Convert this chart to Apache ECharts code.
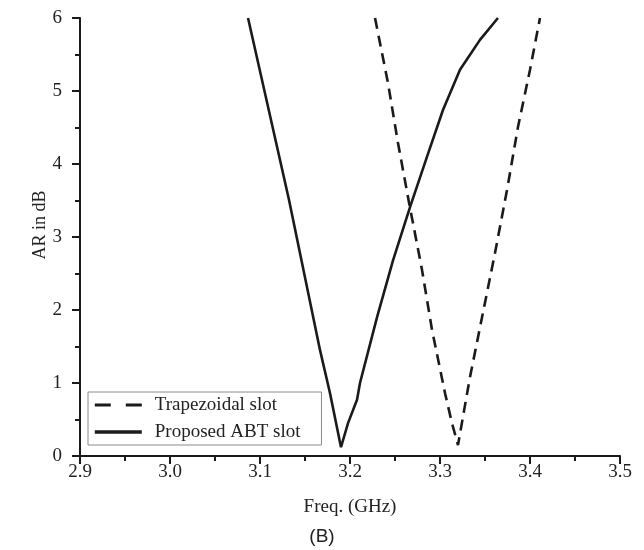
<!DOCTYPE html>
<html>
<head>
<meta charset="utf-8">
<script src="https://cdn.jsdelivr.net/npm/echarts@6/dist/echarts.min.js"></script>
<style>
html,body{margin:0;padding:0;background:#fff;}
#c{width:644px;height:550px;}
</style>
</head>
<body>
<div id="c"></div>
<script>
// Data
var seriesNames = ['Trapezoidal slot', 'Proposed ABT slot'];
var trapFreq = [3.2278, 3.2422, 3.2533, 3.2656, 3.28, 3.2911, 3.3056, 3.3133, 3.32, 3.3333, 3.3467, 3.3611, 3.3744, 3.3867, 3.40, 3.4111];
var trapAR   = [6.0,    5.11,   4.29,   3.47,   2.55, 1.73,   0.86,   0.45,   0.15, 1.08,   1.90,   2.78,   3.64,   4.51,   5.29, 6.0];
var abtFreq = [3.0867, 3.1322, 3.1667, 3.1778, 3.19, 3.1978, 3.2078, 3.2111, 3.23, 3.2478, 3.2667, 3.2856, 3.3033, 3.3222, 3.3444, 3.3644];
var abtAR   = [6.0,    3.51,   1.45,   0.86,   0.12, 0.45,   0.77,   1.0,    1.90, 2.68,   3.41,   4.10,   4.74,   5.29,   5.70,   6.0];
var xTitle = 'Freq. (GHz)';
var yTitle = 'AR in dB';
var caption = '(B)';

function pairs(xs, ys){ return xs.map(function(x,i){ return [x, ys[i]]; }); }

var serif = 'Liberation Serif';
var axisColor = '#1a1a1a';
var textColor = '#222';
var hidden = {opacity: 0, color: 'rgba(0,0,0,0)', borderColor: 'rgba(0,0,0,0)', borderWidth: 0};
var chart = echarts.init(document.getElementById('c'), null, {renderer:'canvas'});
chart.setOption({
  animation: false,
  backgroundColor: '#ffffff',
  grid: {left: 80, right: 24, top: 18, bottom: 94, containLabel: false},
  xAxis: {
    type: 'value', min: 2.9, max: 3.5, interval: 0.1,
    name: xTitle, nameLocation: 'middle', nameGap: 42,
    nameTextStyle: {fontFamily: serif, fontSize: 19, color: textColor},
    axisLine: {show: true, onZero: false, lineStyle: {color: axisColor, width: 2}},
    axisTick: {show: true, inside: false, length: 8, lineStyle: {color: axisColor, width: 2}},
    minorTick: {show: true, splitNumber: 2, length: 5, lineStyle: {color: axisColor, width: 2}},
    axisLabel: {fontFamily: serif, fontSize: 19, color: textColor, margin: 7,
      formatter: function(v){ return v.toFixed(1); }},
    splitLine: {show: false}
  },
  yAxis: {
    type: 'value', min: 0, max: 6, interval: 1,
    name: yTitle, nameLocation: 'middle', nameGap: 31, nameMoveOverlap: false,
    nameTextStyle: {fontFamily: serif, fontSize: 18, color: textColor, padding: [0, 0, 0, 24]},
    axisLine: {show: true, onZero: false, lineStyle: {color: axisColor, width: 2}},
    axisTick: {show: true, inside: false, length: 8, lineStyle: {color: axisColor, width: 2}},
    minorTick: {show: true, splitNumber: 2, length: 5, lineStyle: {color: axisColor, width: 2}},
    axisLabel: {fontFamily: serif, fontSize: 19, color: textColor, margin: 18},
    splitLine: {show: false}
  },
  legend: {
    orient: 'vertical', left: 88, top: 392,
    data: [
      {name: seriesNames[0], lineStyle: {type: [16, 15], width: 3.2}, itemStyle: hidden},
      {name: seriesNames[1], lineStyle: {width: 3.6}, itemStyle: hidden}
    ],
    itemWidth: 47, itemHeight: 14, itemGap: 7,
    padding: [3, 21, 3, 5],
    borderColor: '#8a8a8a', borderWidth: 1,
    backgroundColor: '#ffffff',
    textStyle: {fontFamily: serif, fontSize: 19, color: textColor, lineHeight: 20, padding: [0, 0, 0, 8]}
  },
  series: [
    {
      name: seriesNames[0], type: 'line', data: pairs(trapFreq, trapAR),
      symbol: 'none', smooth: false, clip: true,
      lineStyle: {color: '#1a1a1a', width: 2.6, type: [11, 7]},
      itemStyle: {color: '#1a1a1a'}
    },
    {
      name: seriesNames[1], type: 'line', data: pairs(abtFreq, abtAR),
      symbol: 'none', smooth: false, clip: true,
      lineStyle: {color: '#1a1a1a', width: 2.6, type: 'solid'},
      itemStyle: {color: '#1a1a1a'}
    }
  ],
  graphic: [
    {type: 'text', left: 'center', top: 527, style: {text: caption, fontFamily: 'Liberation Sans', fontSize: 19, fill: textColor}}
  ]
});
</script>
</body>
</html>
